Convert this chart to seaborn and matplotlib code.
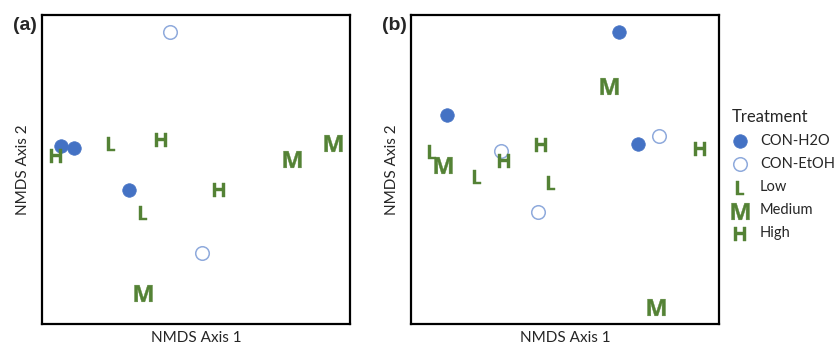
import pandas as pd
import matplotlib.pyplot as plt
import seaborn as sns

# ===============================
# NMDS scores (axis units 0-100)
# ===============================
a_x = [41.6, 51.9, 6.2, 10.4, 28.2, 4.5, 22.4, 38.6, 81.2, 94.5, 57.5, 32.8, 32.8]
a_y = [94.5, 23.0, 57.6, 57.0, 43.4, 54.4, 58.3, 59.5, 53.4, 58.6, 43.4, 35.9, 10.0]
a_trt = ["CON-EtOH", "CON-EtOH", "CON-H2O", "CON-H2O", "CON-H2O",
         "High", "Low", "High", "Medium", "Medium", "High", "Low", "Medium"]

b_x = [67.5, 11.7, 73.7, 80.5, 29.2, 41.2, 64.3, 93.8, 6.8, 10.4, 30.2, 42.2, 21.4, 45.5, 79.5]
b_y = [94.5, 67.6, 58.3, 60.8, 56.0, 36.2, 77.0, 56.6, 55.7, 51.5, 52.8, 57.9, 47.6, 45.6, 5.5]
b_trt = ["CON-H2O", "CON-H2O", "CON-H2O", "CON-EtOH", "CON-EtOH", "CON-EtOH",
         "Medium", "High", "Low", "Medium", "High", "High", "Low", "Low", "Medium"]

treatments = ["CON-H2O", "CON-EtOH", "Low", "Medium", "High"]

df_a = pd.DataFrame({"x": a_x, "y": a_y, "trt": a_trt})
df_b = pd.DataFrame({"x": b_x, "y": b_y, "trt": b_trt})

# ===============================
# Style
# ===============================
sns.set_style("white")
plt.rcParams["font.family"] = ["Lato", "DejaVu Sans"]
plt.rcParams["mathtext.fontset"] = "custom"
plt.rcParams["mathtext.bf"] = "Open Sans:bold"

blue = "#4472C4"
light_blue = "#8FAADC"
green = "#548235"

styles = {
    "CON-H2O": dict(marker="o", s=95, color=blue, edgecolor=blue, linewidth=0.5),
    "CON-EtOH": dict(marker="o", s=95, color="white", edgecolor=light_blue, linewidth=1.1),
    "Low": dict(marker=r"$\mathbf{L}$", s=105, color=green, edgecolor=green, linewidth=0.3),
    "Medium": dict(marker=r"$\mathbf{M}$", s=165, color=green, edgecolor=green, linewidth=0.3),
    "High": dict(marker=r"$\mathbf{H}$", s=115, color=green, edgecolor=green, linewidth=0.3),
}

fig = plt.figure(figsize=(8.38, 3.45), dpi=100)
ax_a = fig.add_axes([42 / 838, 21 / 345, 308 / 838, 309 / 345])
ax_b = fig.add_axes([411 / 838, 21 / 345, 308 / 838, 309 / 345])

for ax, df, tag in [(ax_a, df_a, "(a)"), (ax_b, df_b, "(b)")]:
    for t in treatments:
        sub = df[df["trt"] == t]
        sns.scatterplot(data=sub, x="x", y="y", ax=ax, label=t, **styles[t])
    ax.set_xlim(0, 100)
    ax.set_ylim(0, 100)
    ax.set_xticks([])
    ax.set_yticks([])
    ax.set_xlabel("NMDS Axis 1", fontsize=11, labelpad=5)
    ax.set_ylabel("NMDS Axis 2", fontsize=11, labelpad=9)
    for sp in ax.spines.values():
        sp.set_color("black")
        sp.set_linewidth(1.6)
    ax.legend_.remove()
    ax.text(-0.055, 0.995, tag, transform=ax.transAxes, fontsize=14,
            fontweight="bold", family="Liberation Sans", ha="center", va="top")

handles, labels = ax_b.get_legend_handles_labels()
fig.legend(handles, labels, title="Treatment", loc="upper left",
           bbox_to_anchor=(722 / 838, 1 - 99 / 345), frameon=False,
           fontsize=10.5, title_fontsize=12, alignment="left",
           handlelength=1.0, handletextpad=0.9, labelspacing=0.62,
           borderpad=0.2)

fig.savefig("out.png", dpi=100)
